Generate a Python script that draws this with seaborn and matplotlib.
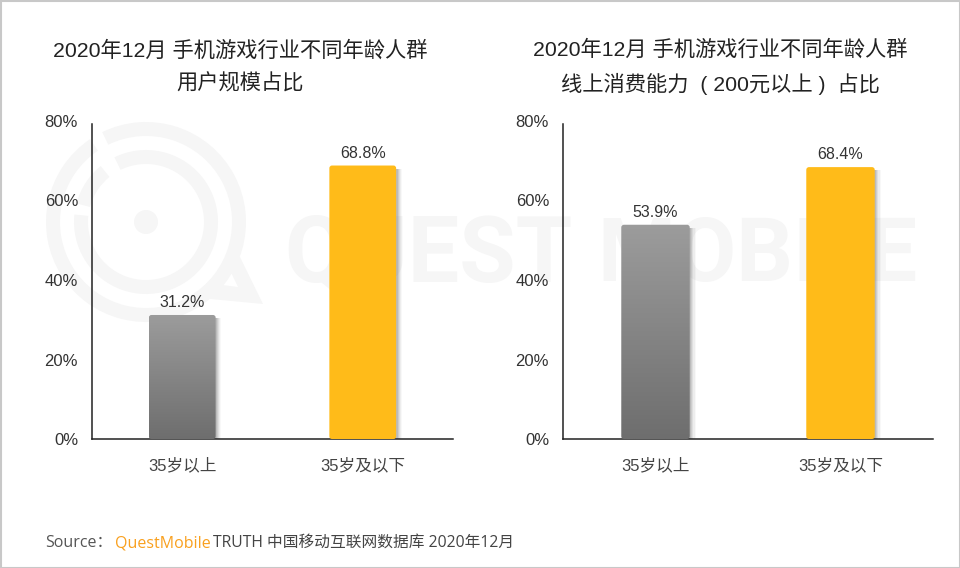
import numpy as np
import pandas as pd
import matplotlib
matplotlib.use("Agg")
import matplotlib.pyplot as plt
from matplotlib.colors import LinearSegmentedColormap
from matplotlib.patches import Circle, FancyBboxPatch, Polygon, Rectangle, Wedge
import seaborn as sns

categories = ["35岁以上", "35岁及以下"]
user_share = [31.2, 68.8]
spend_share = [53.9, 68.4]
y_ticks = [0, 20, 40, 60, 80]
title_left = "2020年12月 手机游戏行业不同年龄人群\n用户规模占比"
title_right = "2020年12月 手机游戏行业不同年龄人群\n线上消费能力  ( 200元以上 )  占比"

sns.set_theme(style="white")
plt.rcParams["font.family"] = ["Liberation Sans", "Noto Sans CJK SC", "DejaVu Sans"]

W, H = 960, 568
fig = plt.figure(figsize=(W / 100, H / 100), dpi=100, facecolor="white")

# background watermark, in pixel coordinates
bg = fig.add_axes([0, 0, 1, 1], zorder=0)
bg.set_xlim(0, W)
bg.set_ylim(H, 0)
bg.axis("off")
WM = "#f6f6f6"
cx, cy = 146, 222
bg.add_patch(Wedge((cx, cy), 100, 244, 236, width=14, color=WM, lw=0))
bg.add_patch(Wedge((cx, cy), 72, 244, 186, width=14, color=WM, lw=0))
bg.add_patch(Wedge((cx, cy), 72, 195, 231, width=14, color=WM, lw=0))
bg.add_patch(Circle((cx, cy), 12, color=WM, lw=0))
bg.add_patch(Polygon([[240, 257], [263, 304], [200, 298], [207, 283], [238, 287], [225, 260]],
                     closed=True, color=WM, lw=0))
bg.text(284, 256, "QUEST", fontsize=66, fontweight="bold", color=WM,
        va="center", ha="left", family="Roboto")
bg.text(597, 256, "MOBILE", fontsize=64, fontweight="bold", color=WM,
        va="center", ha="left", family="Roboto")
# thin frame around the picture
bg.add_patch(Rectangle((0.5, 0.5), W - 1, H - 1, fill=False, ec="#c8c8c8", lw=1.5))

gray_cmap = LinearSegmentedColormap.from_list("gray_bar", ["#9c9c9c", "#6e6e6e"])


def draw_panel(box, values, title, title_x):
    x0, x1, y_top, y_bot = box
    ax = fig.add_axes([x0 / W, 1 - y_bot / H, (x1 - x0) / W, (y_bot - y_top) / H], zorder=1)
    ax.patch.set_alpha(0)
    df = pd.DataFrame({"group": categories, "share": values})
    sns.barplot(data=df, x="group", y="share", ax=ax, width=0.37, color="#ffbb19")
    ax.set_xlabel("")
    ax.set_ylabel("")
    ax.set_yticks(y_ticks)
    ax.set_yticklabels([f"{t}%" for t in y_ticks], fontsize=12, color="#333333")
    ax.tick_params(axis="x", labelsize=12, labelcolor="#444444", pad=13, length=0)
    ax.tick_params(axis="y", pad=10, length=0)
    sns.despine(ax=ax)
    for side in ["left", "bottom"]:
        ax.spines[side].set_color("#222222")
        ax.spines[side].set_linewidth(1.1)
    ax.spines["left"].set_bounds(0, 79.2)

    # swap the square bars for rounded ones with shadow and gradient
    for i, bar in enumerate(list(ax.patches)):
        left, w, h = bar.get_x(), bar.get_width(), bar.get_height()
        bar.set_visible(False)
        rx = w * 0.04
        for off, alpha in [(0.032, 0.05), (0.026, 0.08), (0.02, 0.12), (0.014, 0.16), (0.008, 0.2)]:
            ax.add_patch(Rectangle((left + off, 0), w, h - 0.8, color="#777777",
                                   alpha=alpha, lw=0, zorder=2))
        rounded = FancyBboxPatch((left, 0), w, h, lw=0, zorder=3,
                                 boxstyle="round,pad=0,rounding_size=%f" % rx,
                                 facecolor="#ffbb19")
        rounded.set_mutation_aspect(80 / (y_bot - y_top) * (x1 - x0) / 2)
        ax.add_patch(rounded)
        if i == 0:
            rounded.set_facecolor("none")
            grad = np.linspace(0, 1, 128).reshape(-1, 1)
            im = ax.imshow(grad, extent=(left, left + w, 0, h), origin="upper",
                           cmap=gray_cmap, aspect="auto", zorder=3)
            im.set_clip_path(rounded)
        ax.text(left + w / 2, h + 1.2, f"{h}%", ha="center", va="bottom",
                fontsize=11.5, color="#333333", zorder=4)
    ax.set_xlim(-0.5, 1.5)
    ax.set_ylim(0, 80)

    fig.text(title_x / W, 1 - 67 / H, title, ha="center", va="center",
             fontsize=15.3, color="#222222", linespacing=1.78)
    return ax


draw_panel((92, 453, 121, 439), user_share, title_left, 240)
draw_panel((563, 933, 121, 439), spend_share, title_right, 720)

# source line
src_y = 1 - 543 / H
src_font = ["Open Sans", "Noto Sans CJK SC", "DejaVu Sans"]
fig.text(45 / W, src_y, "Source：", fontsize=11.5, color="#555555", va="center", family=src_font)
fig.text(115 / W, src_y, "QuestMobile", fontsize=11.5, color="#f9a01e", va="center", family=src_font)
fig.text(213 / W, src_y, "TRUTH 中国移动互联网数据库 2020年12月", fontsize=11.3, color="#444444",
         va="center", family=src_font)

fig.savefig("out.png", dpi=100)
